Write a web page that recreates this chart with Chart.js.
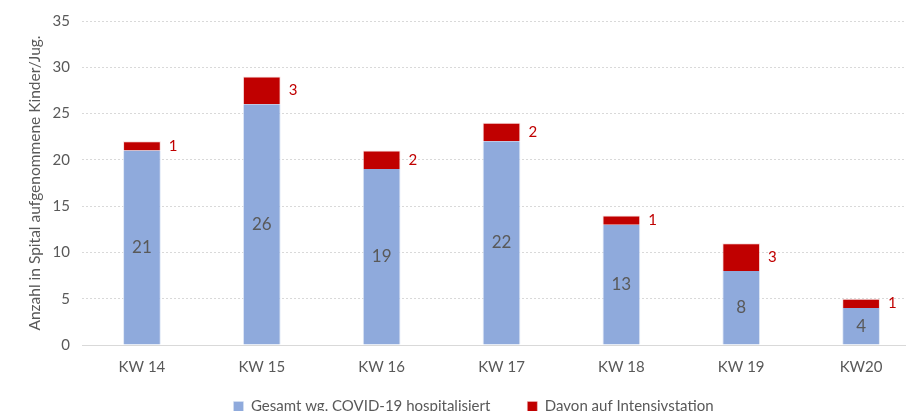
<!DOCTYPE html>
<html>
<head>
<meta charset="utf-8">
<script src="https://cdn.jsdelivr.net/npm/chart.js@4.4.1/dist/chart.umd.min.js"></script>
<style>
html,body{margin:0;padding:0;background:#fff;overflow:hidden;}
#wrap{position:absolute;left:0;top:0;width:952px;height:451px;}
</style>
</head>
<body>
<div id="wrap"><canvas id="c" width="952" height="451"></canvas></div>
<script>
const categories = ["KW 14","KW 15","KW 16","KW 17","KW 18","KW 19","KW20"];
const gesamtValues = [21,26,19,22,13,8,4];
const intensivValues = [1,3,2,2,1,3,1];
const yTicks = [0,5,10,15,20,25,30,35];
const seriesNames = ["Gesamt wg. COVID-19 hospitalisiert","Davon auf Intensivstation"];
const yTitle = "Anzahl in Spital aufgenommene Kinder/Jug.";

const FONT = "Lato, 'Open Sans', sans-serif";
const GRAY = "#595959";

const labelPlugin = {
  id: 'barLabels',
  afterLayout(chart) {
    const lg = chart.legend;
    if (lg) {
      lg.top -= 27; lg.bottom -= 27;
      lg.left += 13; lg.right += 13;
    }
  },
  afterDatasetsDraw(chart) {
    const ctx = chart.ctx;
    ctx.save();
    const m0 = chart.getDatasetMeta(0);
    const m1 = chart.getDatasetMeta(1);
    m0.data.forEach((bar, i) => {
      const yMid = (bar.y + bar.base) / 2;
      ctx.font = "17px " + FONT;
      ctx.fillStyle = "#595959";
      ctx.textAlign = "center";
      ctx.textBaseline = "middle";
      ctx.fillText(String(gesamtValues[i]), bar.x, yMid);
    });
    m1.data.forEach((bar, i) => {
      const yMid = (bar.y + bar.base) / 2;
      ctx.font = "15px " + FONT;
      ctx.fillStyle = "#c00000";
      ctx.textAlign = "left";
      ctx.textBaseline = "middle";
      ctx.fillText(String(intensivValues[i]), bar.x + bar.width / 2 + 8, yMid);
    });
    ctx.restore();
  }
};

new Chart(document.getElementById('c'), {
  type: 'bar',
  data: {
    labels: categories,
    datasets: [
      { label: seriesNames[0], data: gesamtValues, backgroundColor: "#8faadc", borderColor: "rgba(220,230,245,0.9)", borderWidth: {left:1,right:1,top:0,bottom:0}, barPercentage: 0.63, categoryPercentage: 0.5 },
      { label: seriesNames[1], data: intensivValues, backgroundColor: "#c00000", borderColor: "rgba(240,200,200,0.6)", borderWidth: {left:1,right:1,top:1,bottom:0}, barPercentage: 0.63, categoryPercentage: 0.5 }
    ]
  },
  options: {
    responsive: false,
    animation: false,
    layout: { padding: { left: 0, right: 31, top: 16, bottom: 0 } },
    plugins: {
      legend: {
        position: 'bottom',
        labels: { font: { family: FONT, size: 15 }, color: GRAY, boxWidth: 10, boxHeight: 10, padding: 37, useBorderRadius: false }
      },
      tooltip: { enabled: false }
    },
    scales: {
      x: {
        stacked: true,
        grid: { display: false, drawTicks: false },
        border: { display: true, color: "#d9d9d9", width: 1 },
        ticks: { font: { family: FONT, size: 15 }, color: GRAY, padding: 13 },
        afterFit(scale) { scale.height = 44; }
      },
      y: {
        stacked: true,
        min: 0, max: 35,
        afterBuildTicks(scale) { scale.ticks = yTicks.map(v => ({ value: v })); },
        grid: { color: "#d9d9d9", lineWidth: 1, drawTicks: false },
        border: { display: false, dash: [2,2] },
        ticks: { font: { family: FONT, size: 15 }, color: GRAY, padding: 12 },
        title: { display: true, text: yTitle, font: { family: FONT, size: 15.5 }, color: GRAY, padding: { top: 26, bottom: 4 } },
        afterFit(scale) { scale.width = 82; }
      }
    }
  },
  plugins: [labelPlugin]
});
</script>
</body>
</html>
